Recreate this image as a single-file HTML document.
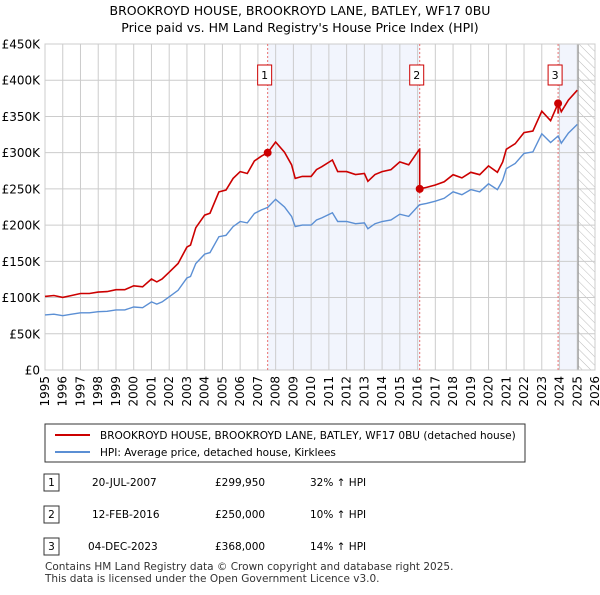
<!DOCTYPE html>
<html><head><meta charset="utf-8"><style>
body{margin:0;background:#fff;font-family:"Liberation Sans","DejaVu Sans",sans-serif;}
svg text{font-family:"DejaVu Sans","Liberation Sans",sans-serif;}
</style></head><body>
<svg id="c" width="600" height="590" viewBox="0 0 600 590" xmlns="http://www.w3.org/2000/svg">
<defs><pattern id="hatch" width="6" height="6" patternUnits="userSpaceOnUse" patternTransform="rotate(-45)"><line x1="0" y1="0" x2="0" y2="6" stroke="#bbb" stroke-width="1"/></pattern></defs>
<text x="300" y="15" text-anchor="middle" font-size="12.5">BROOKROYD HOUSE, BROOKROYD LANE, BATLEY, WF17 0BU</text>
<text x="300" y="32" text-anchor="middle" font-size="12.5">Price paid vs. HM Land Registry's House Price Index (HPI)</text>
<g id="plot"></g>
<g>
<rect x="45" y="424" width="480" height="38" fill="#fff" stroke="#333"/>
<line x1="55" y1="435" x2="90" y2="435" stroke="#cc0000" stroke-width="2"/>
<text x="100" y="439" font-size="10.5">BROOKROYD HOUSE, BROOKROYD LANE, BATLEY, WF17 0BU (detached house)</text>
<line x1="55" y1="452" x2="90" y2="452" stroke="#5b8fd4" stroke-width="2"/>
<text x="100" y="456" font-size="10.5">HPI: Average price, detached house, Kirklees</text>
</g>
<g font-size="10.5">
<rect x="44" y="474" width="15" height="17" fill="#fff" stroke="#333"/><text x="51.5" y="486" text-anchor="middle">1</text>
<text x="92" y="486">20-JUL-2007</text><text x="215" y="486">£299,950</text><text x="310" y="486">32% ↑ HPI</text>
<rect x="44" y="506" width="15" height="17" fill="#fff" stroke="#333"/><text x="51.5" y="518" text-anchor="middle">2</text>
<text x="92" y="518">12-FEB-2016</text><text x="215" y="518">£250,000</text><text x="310" y="518">10% ↑ HPI</text>
<rect x="44" y="538" width="15" height="17" fill="#fff" stroke="#333"/><text x="51.5" y="550" text-anchor="middle">3</text>
<text x="88" y="550">04-DEC-2023</text><text x="215" y="550">£368,000</text><text x="310" y="550">14% ↑ HPI</text>
</g>
<text x="45" y="570" font-size="10.5" fill="#333">Contains HM Land Registry data © Crown copyright and database right 2025.</text>
<text x="45" y="582" font-size="10.5" fill="#333">This data is licensed under the Open Government Licence v3.0.</text>
</svg>
<script>
const hpiYears=[1995,1995.5,1996,1996.5,1997,1997.5,1998,1998.5,1999,1999.5,2000,2000.5,2001,2001.3,2001.6,2002,2002.5,2003,2003.2,2003.5,2004,2004.3,2004.8,2005.2,2005.6,2006,2006.4,2006.8,2007.2,2007.55,2008,2008.5,2008.9,2009.1,2009.5,2010,2010.3,2010.6,2011.2,2011.5,2012,2012.5,2013,2013.2,2013.6,2014,2014.5,2015,2015.5,2016.1,2016.5,2017,2017.5,2018,2018.5,2019,2019.5,2020,2020.5,2020.8,2021,2021.5,2022,2022.5,2023,2023.5,2023.92,2024.1,2024.5,2025];
const hpiValues=[76,77,75,77,79,79,80.5,81,83,83,87,86,94,91,94,101,110,127,129,147,160,162,184,186,198,205,203,216,221,224.5,235.6,225,212,198,200,200,207,210,217,205,205,202,203,195,202,205,207,215,212,228,230,233,237,246,242,249,246,257,249,262,278,285,299,301,326,314,323,313,327,339];
const saleDates=[2007.55,2016.12,2023.92];
const salePrices=[299950,250000,368000];
const saleLabels=["1","2","3"];
const yTicks=[0,50,100,150,200,250,300,350,400,450];
const yTickLabels=["£0","£50K","£100K","£150K","£200K","£250K","£300K","£350K","£400K","£450K"];
const xTicks=[1995,1996,1997,1998,1999,2000,2001,2002,2003,2004,2005,2006,2007,2008,2009,2010,2011,2012,2013,2014,2015,2016,2017,2018,2019,2020,2021,2022,2023,2024,2025,2026];
const dataEnd=2025.05;

const L=45,R=595,T=44,B=370,x0=1995,x1=2026,yMax=450;
const X=v=>L+(v-x0)/(x1-x0)*(R-L);
const Y=v=>B-v/yMax*(B-T);
const NS="http://www.w3.org/2000/svg";
const g=document.getElementById('plot');
function mk(t,a,parent){const e=document.createElementNS(NS,t);for(const k in a)e.setAttribute(k,a[k]);(parent||g).appendChild(e);return e;}
function hpiAt(t){for(let i=0;i<hpiYears.length-1;i++){if(t<=hpiYears[i+1]){const f=(t-hpiYears[i])/(hpiYears[i+1]-hpiYears[i]);return hpiValues[i]+f*(hpiValues[i+1]-hpiValues[i]);}}return hpiValues[hpiValues.length-1];}
let e=mk('rect',{x:X(saleDates[0]),y:T,width:X(saleDates[1])-X(saleDates[0]),height:B-T,fill:'#f2f5fd'});


e=mk('rect',{x:X(saleDates[2]),y:T,width:X(dataEnd)-X(saleDates[2]),height:B-T,fill:'#f2f5fd'});


e=mk('rect',{x:X(dataEnd),y:T,width:R-X(dataEnd),height:B-T,fill:'url(#hatch)'});


yTicks.forEach((v,i)=>{
 let l=mk('line',{x1:L,x2:R,y1:Y(v),y2:Y(v),stroke:'#ccc','stroke-width':1});
 
 
 let t=mk('text',{x:L-5,y:Y(v)+4.5,'text-anchor':'end','font-size':12});t.textContent=yTickLabels[i];
 
 
});
xTicks.forEach(v=>{
 let l=mk('line',{x1:X(v),x2:X(v),y1:T,y2:B,stroke:'#ccc','stroke-width':1});
 
 
 let t=mk('text',{x:0,y:0,'text-anchor':'end','font-size':12,transform:`translate(${X(v)+4},${B+6}) rotate(-90)`});t.textContent=v;
 
 
});
e=mk('line',{x1:X(dataEnd),x2:X(dataEnd),y1:T,y2:B,stroke:'#999','stroke-width':1.2});


e=mk('rect',{x:L,y:T,width:R-L,height:B-T,fill:'none',stroke:'#ccc'});


saleDates.forEach((d,i)=>{
 let l=mk('line',{x1:X(d),x2:X(d),y1:T,y2:B,stroke:'#e87070','stroke-width':1,'stroke-dasharray':'2,2'});
 
 
});
let hp=hpiYears.map((t,i)=>X(t).toFixed(1)+','+Y(hpiValues[i]).toFixed(1)).join(' ');
e=mk('polyline',{points:hp,fill:'none',stroke:'#5b8fd4','stroke-width':1.4});


function ratio(k){return salePrices[k]/1000/hpiAt(saleDates[k]);}
let pts=[];
hpiYears.forEach((t,i)=>{
 let k=0;for(let j=0;j<saleDates.length;j++)if(t>=saleDates[j])k=j;
 pts.push([t,hpiValues[i]*ratio(k)]);
});
let merged=[];let si=1;
pts.forEach(p=>{
 while(si<saleDates.length && p[0]>saleDates[si]){const d=saleDates[si];merged.push([d,hpiAt(d)*ratio(si-1)]);merged.push([d,salePrices[si]/1000]);si++;}
 merged.push(p);
});
e=mk('polyline',{points:merged.map(p=>X(p[0]).toFixed(1)+','+Y(p[1]).toFixed(1)).join(' '),fill:'none',stroke:'#cc0000','stroke-width':1.6});


saleDates.forEach((d,i)=>{
 let c=mk('circle',{cx:X(d),cy:Y(salePrices[i]/1000),r:4,fill:'#cc0000'});
 
 
 let r=mk('rect',{x:X(d)-10,y:65,width:14,height:20,fill:'#fff',stroke:'#cc0000'});
 
 
 let t=mk('text',{x:X(d)-3,y:79,'text-anchor':'middle','font-size':11});t.textContent=saleLabels[i];
 
 
});
</script>
</body></html>
